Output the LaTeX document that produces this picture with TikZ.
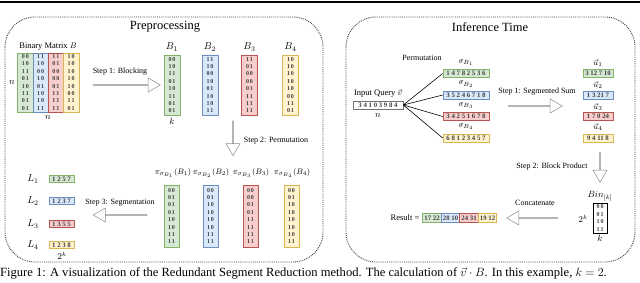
\documentclass[tikz,border=0pt]{standalone}
\usepackage{fontspec}
\setmainfont{Liberation Serif}
\usetikzlibrary{shapes.arrows}
\definecolor{gF}{HTML}{D5E8D4}\definecolor{gD}{HTML}{82B366}
\definecolor{bF}{HTML}{DAE8FC}\definecolor{bD}{HTML}{6C8EBF}
\definecolor{rF}{HTML}{F8CECC}\definecolor{rD}{HTML}{B85450}
\definecolor{yF}{HTML}{FFF2CC}\definecolor{yD}{HTML}{D6B656}
\begin{document}
\begin{tikzpicture}[x=1pt,y=-1pt,
  panel/.style={draw=black!75, line width=0.9pt, densely dotted, rounded corners=30pt},
  title/.style={font=\fontsize{12.5}{14}\selectfont, inner sep=0},
  lbl/.style={font=\fontsize{8}{9}\selectfont, inner sep=0},
  mlbl/.style={font=\fontsize{9}{10}\selectfont, inner sep=0},
  plbl/.style={font=\fontsize{8}{9}\selectfont, inner sep=0},
  blbl/.style={font=\fontsize{10}{11}\selectfont, inner sep=0},
  bits/.style={font=\fontsize{6}{7.4}\selectfont\bfseries, align=center, inner sep=0, text=black!75, line width=0.6pt},
  vec/.style={font=\fontsize{6.8}{7}\selectfont\bfseries, inner sep=0, text=black!75, line width=0.6pt, minimum height=8pt},
  gcol/.style={fill=gF, draw=gD},
  bcol/.style={fill=bF, draw=bD},
  rcol/.style={fill=rF, draw=rD},
  ycol/.style={fill=yF, draw=yD},
  hollow/.style={single arrow, draw=black!45, fill=white, line width=0.5pt, minimum width=14pt,
    single arrow head extend=5pt, single arrow tip angle=60, inner sep=0},
  conn/.style={draw=black, line width=0.6pt}]
\useasboundingbox (0,0) rectangle (640,283);
\draw[line width=2pt] (0,2) -- (640,2);

% ---------------- Preprocessing panel
\draw[panel] (5,17) rectangle (323,262);
\node[title] (tPre) at (165,27) {Preprocessing};
\node[lbl, font=\fontsize{8.5}{10}\selectfont] (tBM) at (48,47) {Binary Matrix $B$};
\node[bits, gcol, minimum width=15.3pt, minimum height=59pt] (m1) at (25.3,82.5) {0\,0\\1\,0\\1\,1\\0\,1\\1\,0\\1\,1\\0\,1\\0\,1};
\node[bits, bcol, minimum width=15.3pt, minimum height=59pt] (m2) at (40.6,82.5) {1\,1\\1\,0\\0\,0\\1\,0\\0\,1\\1\,0\\1\,0\\1\,1};
\node[bits, rcol, minimum width=15.3pt, minimum height=59pt] (m3) at (55.9,82.5) {1\,1\\0\,1\\0\,0\\0\,0\\0\,1\\1\,1\\1\,1\\1\,1};
\node[bits, ycol, minimum width=15.3pt, minimum height=59pt] (m4) at (71.2,82.5) {1\,0\\1\,0\\1\,0\\1\,0\\1\,0\\0\,0\\1\,1\\0\,1};
\node[mlbl] (nL) at (12,83) {$n$};
\node[mlbl] (nB) at (48,118) {$n$};

\node[hollow, minimum height=67pt] (a1) at (126.5,85) {};
\node[lbl] (s1lab) at (120,72) {Step 1: Blocking};

\node[mlbl] (nB1) at (167,85) {$n$};
\node[blbl] (lB1) at (172,47) {$B_1$};
\node[blbl] (lB2) at (210,47) {$B_2$};
\node[blbl] (lB3) at (249.5,47) {$B_3$};
\node[blbl] (lB4) at (290.5,47) {$B_4$};
\node[bits, gcol, minimum width=16pt, minimum height=60pt] (b1) at (172,85) {0\,0\\1\,0\\1\,1\\0\,1\\1\,0\\1\,1\\0\,1\\0\,1};
\node[bits, bcol, minimum width=16pt, minimum height=60pt] (b2) at (210,85) {1\,1\\1\,0\\0\,0\\1\,0\\0\,1\\1\,0\\1\,0\\1\,1};
\node[bits, rcol, minimum width=16pt, minimum height=60pt] (b3) at (249.5,85) {1\,1\\0\,1\\0\,0\\0\,0\\0\,1\\1\,1\\1\,1\\1\,1};
\node[bits, ycol, minimum width=16pt, minimum height=60pt] (b4) at (290.5,85) {1\,0\\1\,0\\1\,0\\1\,0\\1\,0\\0\,0\\1\,1\\0\,1};
\node[mlbl] (kB1) at (172,121) {$k$};

\node[hollow, minimum height=35pt, rotate=-90] (a2) at (233,138) {};
\node[lbl] (s2lab) at (276,141) {Step 2: Permutation};

\node[plbl] (lP1) at (173,173) {$\pi_{\sigma_{B_1}}(B_1)$};
\node[plbl] (lP2) at (211,173) {$\pi_{\sigma_{B_2}}(B_2)$};
\node[plbl] (lP3) at (251,173) {$\pi_{\sigma_{B_3}}(B_3)$};
\node[plbl] (lP4) at (292,173) {$\pi_{\sigma_{B_4}}(B_4)$};
\node[bits, gcol, minimum width=15pt, minimum height=62pt] (p1) at (171.5,216) {0\,0\\0\,1\\0\,1\\0\,1\\1\,0\\1\,0\\1\,1\\1\,1};
\node[bits, bcol, minimum width=15pt, minimum height=62pt] (p2) at (210.5,216) {0\,0\\0\,1\\1\,0\\1\,0\\1\,0\\1\,0\\1\,1\\1\,1};
\node[bits, rcol, minimum width=15pt, minimum height=62pt] (p3) at (250.5,216) {0\,0\\0\,0\\0\,1\\0\,1\\1\,1\\1\,1\\1\,1\\1\,1};
\node[bits, ycol, minimum width=15pt, minimum height=62pt] (p4) at (291.5,216) {0\,0\\0\,1\\1\,0\\1\,0\\1\,0\\1\,0\\1\,0\\1\,1};

\node[hollow, minimum height=54pt, rotate=180] (a3) at (120.5,215) {};
\node[lbl] (s3lab) at (120,203) {Step 3: Segmentation};

\node[blbl] (lL1) at (33,179) {$L_1$};
\node[blbl] (lL2) at (33,201) {$L_2$};
\node[blbl] (lL3) at (33,224) {$L_3$};
\node[blbl] (lL4) at (33,245) {$L_4$};
\node[vec, gcol, minimum width=25pt, minimum height=7.5pt] (L1) at (61.5,179) {1 2 5 7};
\node[vec, bcol, minimum width=25pt, minimum height=7.5pt] (L2) at (61.5,201) {1 2 3 7};
\node[vec, rcol, minimum width=25pt, minimum height=7.5pt] (L3) at (61.5,224) {1 3 5 5};
\node[vec, ycol, minimum width=25pt, minimum height=7.5pt] (L4) at (61.5,245) {1 2 3 8};
\node[mlbl] (kL) at (62,256) {$2^k$};

% ---------------- Inference panel
\draw[panel] (346,17) rectangle (635,262);
\node[title] (tInf) at (490,27) {Inference Time};
\node[lbl] (perm) at (422,58) {Permutation};

\node[lbl, font=\fontsize{8.5}{10}\selectfont] (qlab) at (378,94) {Input Query $\vec{v}$};
\node[vec, draw=black!55, fill=white, minimum width=50pt] (q) at (378,105) {3 4 1 0 3 9 8 4};
\node[mlbl] (nq) at (378,116) {$n$};

\node[lbl] (ls1) at (466,63) {$\sigma_{B_1}$};
\node[lbl] (ls2) at (466,84.5) {$\sigma_{B_2}$};
\node[lbl] (ls3) at (466,106) {$\sigma_{B_3}$};
\node[lbl] (ls4) at (466,127) {$\sigma_{B_4}$};
\node[vec, gcol, minimum width=46pt] (s1) at (466,73.5) {1 4 7 8 2 5 3 6};
\node[vec, bcol, minimum width=46pt] (s2) at (466,95) {3 5 2 4 6 7 1 8};
\node[vec, rcol, minimum width=46pt] (s3) at (466,116.5) {3 4 2 5 1 6 7 8};
\node[vec, ycol, minimum width=46pt] (s4) at (466,138) {6 8 1 2 3 4 5 7};
\draw[conn] (q.east) -- (s1.west);
\draw[conn] (q.east) -- (s2.west);
\draw[conn] (q.east) -- (s3.west);
\draw[conn] (q.east) -- (s4.west);

\node[hollow, minimum height=54pt] (a4) at (535,106) {};
\node[lbl] (s4lab) at (537,92) {Step 1: Segmented Sum};

\node[lbl] (lu1) at (598,63) {$\vec{u}_1$};
\node[lbl] (lu2) at (598,85) {$\vec{u}_2$};
\node[lbl] (lu3) at (598,107) {$\vec{u}_3$};
\node[lbl] (lu4) at (598,127) {$\vec{u}_4$};
\node[vec, gcol, minimum width=30pt] (u1) at (598,73.5) {3 12 7 10};
\node[vec, bcol, minimum width=30pt] (u2) at (598,95) {1 3 21 7};
\node[vec, rcol, minimum width=30pt] (u3) at (598,116.5) {1 7 0 24};
\node[vec, ycol, minimum width=30pt] (u4) at (598,138) {9 4 11 8};

\node[hollow, minimum height=30pt, rotate=-90] (a5) at (600,167) {};
\node[lbl] (s5lab) at (552,167) {Step 2: Block Product};

\node[mlbl] (lbin) at (600,196) {$Bin_{[k]}$};
\node[bits, draw=black, fill=white, minimum width=14pt, minimum height=30pt, line width=0.5pt] (bin) at (600,218) {0\,0\\0\,1\\1\,0\\1\,1};
\node[mlbl] (kbin) at (583,219) {$2^k$};
\node[mlbl] (kbin2) at (600,238) {$k$};

\node[hollow, minimum height=51pt, rotate=180] (a6) at (532.5,218) {};
\node[lbl] (s6lab) at (535,203) {Concatenate};

\node[lbl, font=\fontsize{8.5}{10}\selectfont] (res) at (405,218) {Result =};
\node[vec, gcol, minimum width=18.5pt, minimum height=9pt] (r1) at (432,218) {17 22};
\node[vec, bcol, minimum width=18.5pt, minimum height=9pt] (r2) at (450.5,218) {28 10};
\node[vec, rcol, minimum width=18.5pt, minimum height=9pt] (r3) at (469,218) {24 31};
\node[vec, ycol, minimum width=18.5pt, minimum height=9pt] (r4) at (487.5,218) {19 12};

% ---------------- caption
\node[anchor=west, inner sep=0, font=\fontsize{12.55}{14}\selectfont] (cap) at (0,273)
  {Figure 1: A visualization of the Redundant Segment Reduction method. The calculation of $\vec{v}\cdot B$. In this example, $k=2$.};
\end{tikzpicture}
\end{document}
